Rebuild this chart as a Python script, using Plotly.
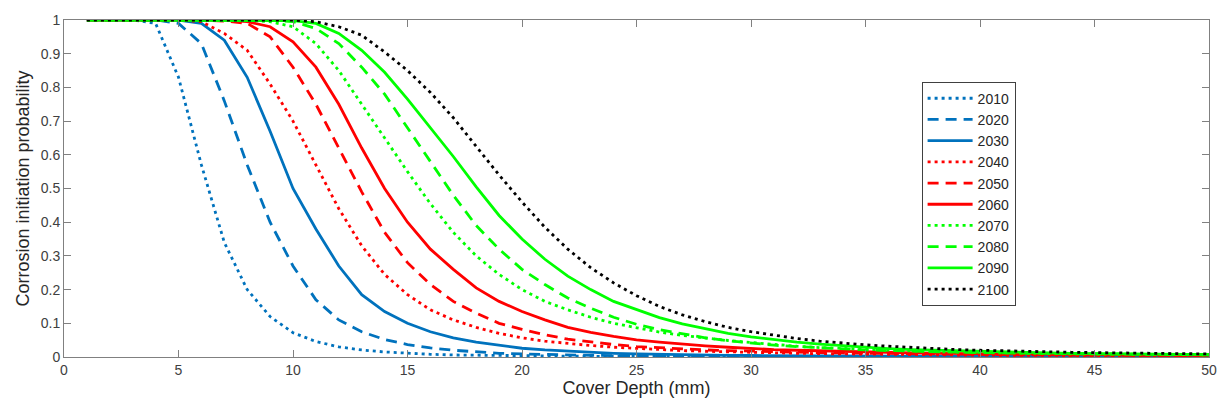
import plotly.graph_objects as go

cover_depth = list(range(1, 51))

p2010 = [1, 1, 1, 0.99, 0.83, 0.57, 0.34, 0.20, 0.12, 0.072,
         0.046, 0.03, 0.021, 0.015, 0.011, 0.008, 0.006, 0.005, 0.004, 0.003,
         0.0025, 0.002, 0.002, 0.0015, 0.0015, 0.001, 0.001, 0.001, 0.001, 0.001,
         0.001, 0.001, 0.001, 0.001, 0.001, 0.001, 0.001, 0.001, 0.001, 0.001,
         0.0005, 0.0005, 0.0005, 0.0005, 0.0005, 0.0005, 0.0005, 0.0005, 0.0005, 0.0005]
p2020 = [1, 1, 1, 1, 0.99, 0.93, 0.76, 0.57, 0.40, 0.27,
         0.17, 0.11, 0.075, 0.052, 0.037, 0.027, 0.02, 0.015, 0.011, 0.009,
         0.007, 0.006, 0.005, 0.004, 0.0035, 0.003, 0.0025, 0.002, 0.002, 0.0018,
         0.0016, 0.0015, 0.0014, 0.0013, 0.0012, 0.0011, 0.001, 0.001, 0.001, 0.001,
         0.001, 0.001, 0.001, 0.001, 0.001, 0.001, 0.001, 0.001, 0.001, 0.001]
p2030 = [1, 1, 1, 1, 1, 0.99, 0.94, 0.83, 0.67, 0.50,
         0.38, 0.27, 0.185, 0.135, 0.10, 0.075, 0.057, 0.044, 0.034, 0.026,
         0.021, 0.017, 0.014, 0.011, 0.009, 0.0075, 0.0065, 0.0055, 0.005, 0.0045,
         0.004, 0.0035, 0.003, 0.003, 0.0025, 0.0025, 0.002, 0.002, 0.002, 0.0018,
         0.0016, 0.0015, 0.0014, 0.0013, 0.0012, 0.0011, 0.001, 0.001, 0.001, 0.001]
p2040 = [1, 1, 1, 1, 1, 0.995, 0.96, 0.91, 0.81, 0.70,
         0.57, 0.44, 0.33, 0.245, 0.185, 0.14, 0.11, 0.088, 0.07, 0.057,
         0.047, 0.04, 0.034, 0.029, 0.025, 0.022, 0.019, 0.017, 0.015, 0.013,
         0.012, 0.011, 0.01, 0.009, 0.008, 0.0075, 0.007, 0.0065, 0.006, 0.0055,
         0.005, 0.0048, 0.0045, 0.0042, 0.004, 0.0037, 0.0035, 0.0033, 0.003, 0.003]
p2050 = [1, 1, 1, 1, 1, 1, 0.997, 0.99, 0.95, 0.86,
         0.75, 0.62, 0.49, 0.37, 0.28, 0.215, 0.165, 0.13, 0.10, 0.082,
         0.066, 0.053, 0.044, 0.037, 0.031, 0.027, 0.024, 0.021, 0.019, 0.017,
         0.015, 0.014, 0.013, 0.012, 0.011, 0.01, 0.009, 0.0085, 0.008, 0.0075,
         0.007, 0.0065, 0.006, 0.0055, 0.005, 0.0048, 0.0045, 0.0043, 0.004, 0.004]
p2060 = [1, 1, 1, 1, 1, 1, 1, 0.995, 0.98, 0.935,
         0.86, 0.75, 0.62, 0.50, 0.40, 0.32, 0.26, 0.205, 0.165, 0.135,
         0.11, 0.088, 0.073, 0.061, 0.051, 0.044, 0.038, 0.033, 0.029, 0.025,
         0.022, 0.02, 0.018, 0.016, 0.015, 0.013, 0.012, 0.011, 0.0105, 0.01,
         0.009, 0.0085, 0.008, 0.0075, 0.007, 0.0065, 0.006, 0.0055, 0.005, 0.005]
p2070 = [1, 1, 1, 1, 1, 1, 1, 1, 0.995, 0.98,
         0.93, 0.85, 0.75, 0.65, 0.55, 0.455, 0.37, 0.30, 0.245, 0.20,
         0.165, 0.14, 0.118, 0.10, 0.086, 0.074, 0.064, 0.056, 0.049, 0.043,
         0.037, 0.032, 0.028, 0.025, 0.022, 0.02, 0.018, 0.016, 0.0145, 0.013,
         0.012, 0.011, 0.01, 0.0095, 0.009, 0.0085, 0.008, 0.0075, 0.007, 0.0065]
p2080 = [1, 1, 1, 1, 1, 1, 1, 1, 1, 0.995,
         0.975, 0.93, 0.86, 0.78, 0.68, 0.58, 0.48, 0.39, 0.32, 0.26,
         0.215, 0.175, 0.145, 0.118, 0.097, 0.081, 0.068, 0.057, 0.048, 0.041,
         0.035, 0.031, 0.027, 0.024, 0.021, 0.019, 0.017, 0.015, 0.014, 0.013,
         0.012, 0.011, 0.01, 0.0095, 0.009, 0.0085, 0.008, 0.0075, 0.007, 0.0065]
p2090 = [1, 1, 1, 1, 1, 1, 1, 1, 1, 0.998,
         0.99, 0.96, 0.91, 0.845, 0.765, 0.68, 0.595, 0.505, 0.42, 0.35,
         0.29, 0.24, 0.20, 0.165, 0.14, 0.117, 0.098, 0.083, 0.07, 0.06,
         0.051, 0.044, 0.038, 0.033, 0.029, 0.025, 0.022, 0.02, 0.018, 0.016,
         0.014, 0.013, 0.012, 0.011, 0.01, 0.0095, 0.009, 0.0085, 0.008, 0.0075]
p2100 = [1, 1, 1, 1, 1, 1, 1, 1, 1, 1,
         0.995, 0.98, 0.955, 0.905, 0.85, 0.785, 0.71, 0.625, 0.54, 0.46,
         0.385, 0.32, 0.265, 0.22, 0.182, 0.15, 0.125, 0.105, 0.088, 0.075,
         0.064, 0.055, 0.047, 0.041, 0.036, 0.032, 0.028, 0.025, 0.022, 0.02,
         0.018, 0.016, 0.015, 0.014, 0.013, 0.012, 0.011, 0.01, 0.0095, 0.009]

years = ["2010", "2020", "2030", "2040", "2050", "2060", "2070", "2080", "2090", "2100"]
series = [p2010, p2020, p2030, p2040, p2050, p2060, p2070, p2080, p2090, p2100]

BLUE = "#0072BD"
RED = "#FF0000"
GREEN = "#00FF00"
BLACK = "#000000"
DOT = "3px,4px"
DASH = "11px,7px"
colors = [BLUE, BLUE, BLUE, RED, RED, RED, GREEN, GREEN, GREEN, BLACK]
dashes = [DOT, DASH, "solid", DOT, DASH, "solid", DOT, DASH, "solid", DOT]

x_ticks = [0, 5, 10, 15, 20, 25, 30, 35, 40, 45, 50]
y_ticks = [0, 0.1, 0.2, 0.3, 0.4, 0.5, 0.6, 0.7, 0.8, 0.9, 1]
y_ticktext = ["0", "0.1", "0.2", "0.3", "0.4", "0.5", "0.6", "0.7", "0.8", "0.9", "1"]

FONT = "Liberation Sans, Arial, sans-serif"

fig = go.Figure()
for name, vals, c, d in zip(years, series, colors, dashes):
    fig.add_trace(go.Scatter(
        x=cover_depth, y=vals, mode="lines", name=name,
        line=dict(color=c, width=2.8, dash=d),
    ))

axis_common = dict(
    showline=True, linecolor="#808080", linewidth=1, mirror="ticks",
    ticks="inside", ticklen=7, tickcolor="#808080", tickwidth=1,
    showgrid=False, zeroline=False,
    tickfont=dict(family=FONT, size=14, color="#404040"),
)

fig.update_xaxes(
    range=[0, 50], tickvals=x_ticks,
    title=dict(text="Cover Depth (mm)", standoff=4,
               font=dict(family=FONT, size=18, color="#262626")),
    **axis_common,
)
fig.update_yaxes(
    range=[0, 1], tickvals=y_ticks, ticktext=y_ticktext,
    title=dict(text="Corrosion initiation probability", standoff=6,
               font=dict(family=FONT, size=18, color="#262626")),
    **axis_common,
)

fig.update_layout(
    width=1229, height=412,
    margin=dict(l=64, r=19, t=12, b=55),
    paper_bgcolor="white", plot_bgcolor="white",
    showlegend=True,
    legend=dict(
        x=0.749, y=0.817, xanchor="left", yanchor="top",
        bgcolor="white", bordercolor="#404040", borderwidth=1,
        tracegroupgap=0,
        itemwidth=45,
        font=dict(family=FONT, size=14, color="#262626"),
    ),
)

fig.write_html("out.html")
